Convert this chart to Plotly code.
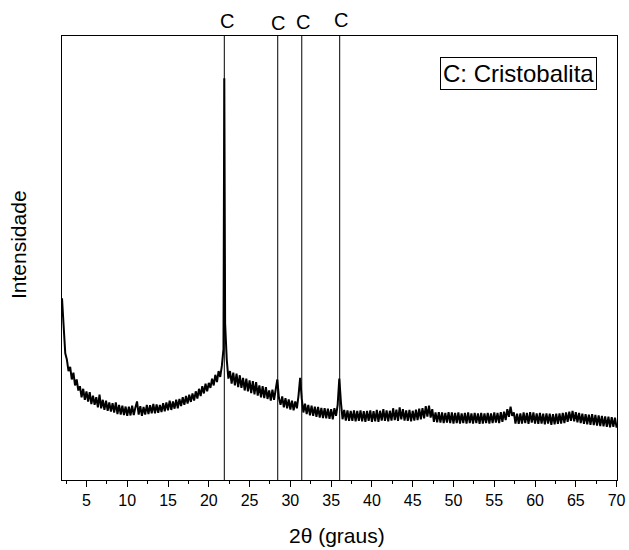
import numpy as np
import plotly.graph_objects as go

# ---- data (2θ grid start/step, intensity in arbitrary units) ----
START = 2.0
STEP = 0.2
intensity = [
    38.0,
    30.0, 25.0, 23.5, 20.8, 21.8, 18.8, 20.4, 17.4, 18.8, 16.2,
    17.2, 14.6, 16.6, 14.0, 16.0, 13.6, 15.8, 13.0, 15.0, 12.8,
    14.6, 12.2, 15.2, 12.0, 14.0, 11.6, 13.8, 11.4, 13.4, 11.2,
    13.2, 11.0, 13.4, 10.6, 12.8, 10.5, 12.6, 10.4, 12.4, 10.2,
    12.4, 10.3, 12.6, 10.4, 12.2, 13.6, 10.5, 12.5, 10.2, 12.3,
    10.5, 12.8, 10.6, 12.7, 10.8, 13.0, 10.8, 12.9, 10.9, 12.8,
    11.1, 13.2, 11.3, 13.4, 11.5, 13.8, 11.6, 13.6, 11.9, 14.0,
    12.0, 14.2, 12.5, 14.6, 12.8, 14.9, 13.1, 15.2, 13.5, 15.5,
    13.8, 16.0, 14.3, 16.6, 14.9, 17.2, 15.5, 17.8, 16.0, 18.0,
    16.8, 19.0, 17.4, 19.9, 18.2, 20.8, 19.4, 22.0, 26.0, 32.0,
    23.5, 19.0, 20.8, 17.8, 20.4, 17.4, 20.2, 17.0, 19.8, 16.8,
    19.2, 16.2, 19.0, 16.0, 18.6, 15.6, 18.4, 15.3, 18.2, 15.0,
    17.4, 14.6, 17.2, 14.4, 17.0, 14.2, 16.2, 13.8, 16.4, 14.0,
    16.6, 18.8, 14.4, 12.8, 14.8, 12.2, 14.4, 12.0, 14.1, 11.7,
    13.8, 11.5, 13.6, 12.0, 15.0, 19.2, 14.2, 11.0, 13.1, 10.6,
    12.8, 10.3, 12.6, 10.2, 12.4, 10.0, 12.3, 9.8, 12.1, 9.7,
    12.0, 9.6, 11.9, 9.5, 11.8, 9.4, 12.0, 10.2, 12.8, 19.0,
    13.4, 9.4, 11.6, 9.1, 11.5, 9.0, 11.4, 9.0, 11.5, 8.9,
    11.4, 9.0, 11.5, 8.9, 11.3, 8.8, 11.4, 9.0, 11.5, 8.8,
    11.3, 8.9, 11.6, 8.8, 11.4, 9.1, 11.8, 9.0, 11.5, 8.9,
    11.4, 9.1, 12.0, 9.2, 11.7, 9.0, 12.2, 9.4, 11.8, 9.1,
    11.5, 9.0, 11.6, 8.9, 11.4, 9.1, 11.7, 9.2, 11.9, 9.4,
    12.0, 9.6, 12.5, 10.0, 12.6, 9.8, 11.8, 8.8, 11.0, 8.7,
    11.1, 8.6, 11.0, 8.5, 10.9, 8.6, 11.1, 8.5, 11.0, 8.4,
    10.9, 8.5, 11.0, 8.4, 10.8, 8.5, 10.9, 8.4, 11.0, 8.5,
    10.8, 8.4, 10.9, 8.5, 10.8, 8.3, 10.9, 8.4, 10.8, 8.5,
    10.9, 8.4, 10.8, 8.5, 11.0, 8.6, 10.9, 8.5, 11.1, 8.8,
    11.2, 9.2, 11.8, 10.0, 12.4, 10.2, 11.0, 8.4, 10.7, 8.3,
    10.8, 8.4, 11.0, 8.5, 10.9, 8.3, 11.1, 8.6, 11.0, 8.4,
    10.8, 8.3, 10.9, 8.4, 10.7, 8.2, 10.8, 8.4, 10.7, 8.1,
    10.6, 8.2, 10.7, 8.3, 10.8, 8.4, 10.9, 8.5, 11.0, 8.8,
    11.2, 9.0, 11.4, 8.9, 11.1, 8.7, 10.9, 8.5, 10.7, 8.3,
    10.6, 8.2, 10.5, 8.1, 10.6, 8.0, 10.4, 7.9, 10.3, 7.8,
    10.2, 7.7, 10.1, 7.6, 10.0, 7.5, 9.9, 7.6, 9.8, 7.4,
]
peak_x = [21.9]
peak_y = [90.0]

ref_lines = [21.9, 28.45, 31.4, 36.05]
ref_labels = ["C", "C", "C", "C"]
legend_text = "C: Cristobalita"
x_title = "2θ (graus)"
y_title = "Intensidade"

# ---- build series ----
grid = np.round(START + STEP * np.arange(len(intensity)), 2)
xs = np.concatenate([grid, peak_x])
ys = np.concatenate([intensity, peak_y])
order = np.argsort(xs, kind="stable")
xs, ys = xs[order], ys[order]

FONT = "Arial, Liberation Sans, sans-serif"

fig = go.Figure()
fig.add_trace(go.Scatter(x=xs, y=ys, mode="lines",
                         line=dict(color="black", width=2),
                         showlegend=False, hoverinfo="skip"))

# vertical reference lines
for xv in ref_lines:
    fig.add_shape(type="line", xref="x", yref="paper", x0=xv, x1=xv, y0=0, y1=1,
                  line=dict(color="black", width=1))

L, R, T, B = 62, 12, 36, 70
W, H = 629, 550
ph = H - T - B
pw = W - L - R

# "C" labels above the plot
label_dx = [3, 0, 1, 1]
label_py = [20.7, 22.7, 21.7, 20.0]
for xv, lab, dx, py in zip(ref_lines, ref_labels, label_dx, label_py):
    fig.add_annotation(x=xv, y=(H - B - py) / ph, xref="x", yref="paper",
                       text=lab, showarrow=False, xanchor="center", yanchor="middle",
                       xshift=dx, font=dict(family=FONT, size=20, color="black"))

fig.add_annotation(x=(440 - L) / pw, y=(H - B - 57) / ph, xref="paper", yref="paper",
                   text=legend_text, showarrow=False, xanchor="left", yanchor="top",
                   bordercolor="black", borderwidth=1, borderpad=2, bgcolor="white",
                   font=dict(family=FONT, size=24, color="black"))

fig.add_annotation(x=(336.5 - L) / pw, y=(H - B - 535) / ph, xref="paper", yref="paper",
                   text=x_title, showarrow=False, xanchor="center", yanchor="middle",
                   font=dict(family=FONT, size=21, color="black"))
fig.add_annotation(x=(19 - L) / pw, y=(H - B - 245) / ph, xref="paper", yref="paper",
                   text=y_title, textangle=-90, showarrow=False,
                   xanchor="center", yanchor="middle",
                   font=dict(family=FONT, size=21, color="black"))

fig.update_layout(
    width=W, height=H, autosize=False,
    margin=dict(l=L, r=R, t=T, b=B, pad=0, autoexpand=False),
    paper_bgcolor="white", plot_bgcolor="white",
    font=dict(family=FONT, color="black"),
    xaxis=dict(range=[2.0, 70.05], tick0=0, dtick=5, ticks="outside", ticklen=6,
               tickwidth=1, tickcolor="black", showgrid=False, zeroline=False,
               showline=True, linecolor="black", linewidth=1, mirror=True,
               automargin=False,
               tickfont=dict(family=FONT, size=16, color="black"),
               minor=dict(dtick=2.5, tick0=0, ticks="outside", ticklen=3,
                          tickcolor="black", tickwidth=1)),
    yaxis=dict(range=[-4.96, 100], showticklabels=False, ticks="", showgrid=False,
               zeroline=False, showline=True, linecolor="black", linewidth=1,
               mirror=True, automargin=False),
)

fig.write_html("out.html",
               config={"displayModeBar": False, "responsive": False},
               post_script="document.body.style.margin='0';document.body.style.overflow='hidden';")
